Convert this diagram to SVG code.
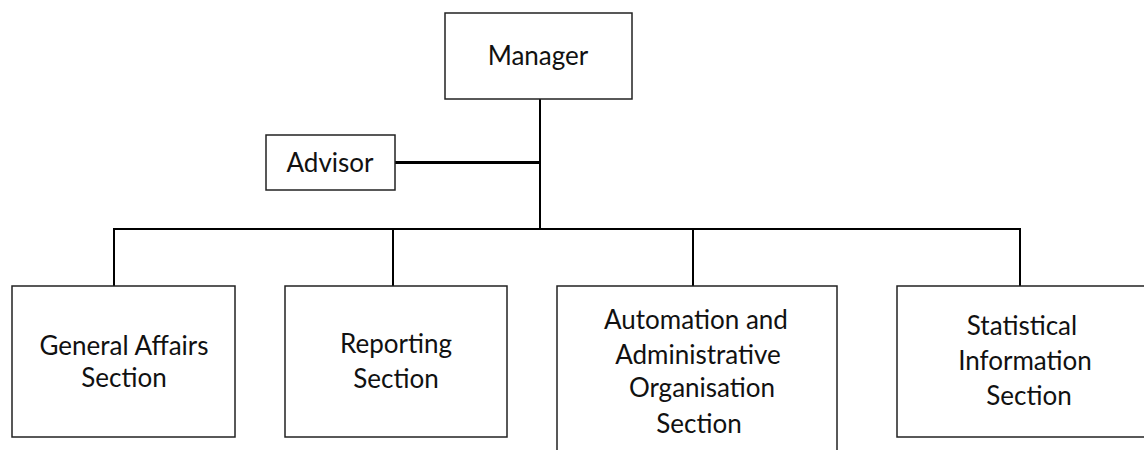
<svg xmlns="http://www.w3.org/2000/svg" width="1144" height="450" viewBox="0 0 1144 450">
<style>
.box{fill:#fff;stroke:#222;stroke-width:1.5}
.t{font-family:Lato,"Open Sans","Liberation Sans",sans-serif;font-size:26px;fill:#111;text-anchor:middle}
.c{stroke:#000;stroke-width:2;fill:none}
.c3{stroke:#000;stroke-width:3;fill:none}
</style>
<rect width="1144" height="450" fill="#fff"/>
<g id="connectors">
<line class="c" x1="540" y1="99" x2="540" y2="229"/>
<line class="c3" x1="395" y1="162.5" x2="540" y2="162.5"/>
<line class="c" x1="113" y1="229" x2="1021" y2="229"/>
<line class="c" x1="114" y1="228" x2="114" y2="286"/>
<line class="c" x1="393" y1="228" x2="393" y2="286"/>
<line class="c" x1="693" y1="228" x2="693" y2="286"/>
<line class="c" x1="1020" y1="228" x2="1020" y2="286"/>
</g>
<g id="manager">
<rect class="box" x="445" y="13" width="187" height="86"/>
<text class="t" x="538" y="65">Manager</text>
</g>
<g id="advisor">
<rect class="box" x="266" y="135" width="129" height="55"/>
<text class="t" x="330" y="172">Advisor</text>
</g>
<g id="general-affairs">
<rect class="box" x="12" y="286" width="223" height="151"/>
<text class="t" x="124" y="355">General Affairs</text>
<text class="t" x="124" y="387">Section</text>
</g>
<g id="reporting">
<rect class="box" x="285" y="286" width="222" height="151"/>
<text class="t" x="396" y="353">Reporting</text>
<text class="t" x="396" y="388">Section</text>
</g>
<g id="automation">
<rect class="box" x="557" y="286" width="280" height="180"/>
<text class="t" x="696" y="329">Automation and</text>
<text class="t" x="698" y="364">Administrative</text>
<text class="t" x="702" y="397">Organisation</text>
<text class="t" x="699" y="433">Section</text>
</g>
<g id="statistical">
<rect class="box" x="897" y="286" width="260" height="151"/>
<text class="t" x="1022" y="335">Statistical</text>
<text class="t" x="1025" y="370">Information</text>
<text class="t" x="1029" y="405">Section</text>
</g>
</svg>
